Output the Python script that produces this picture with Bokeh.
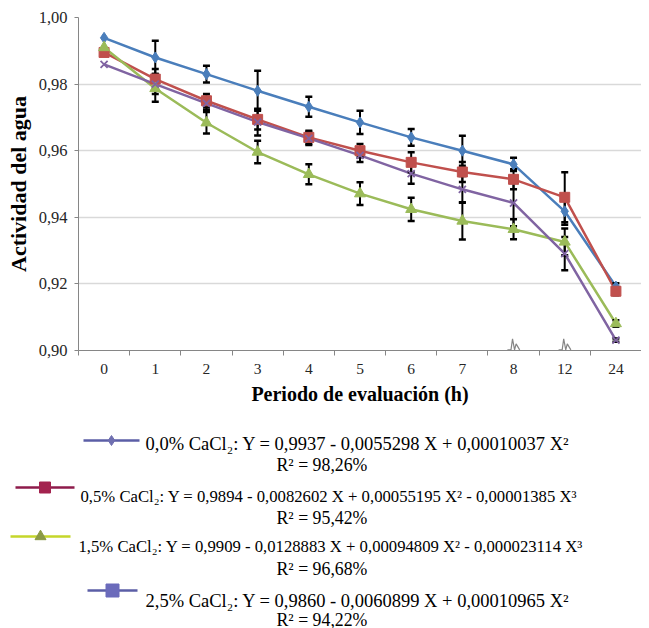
from bokeh.plotting import figure
from bokeh.models import Range1d, FixedTicker, CustomJSTickFormatter
from bokeh.layouts import column
from bokeh.embed import file_html
from bokeh.resources import INLINE
from bokeh.core.properties import value

# ---------------- data ----------------
categories = ["0", "1", "2", "3", "4", "5", "6", "7", "8", "12", "24"]
y_ticks = [0.90, 0.92, 0.94, 0.96, 0.98, 1.00]

aw_00 = [0.9939, 0.9880, 0.9830, 0.9780, 0.9732, 0.9685, 0.9640, 0.9600, 0.9559, 0.9418, 0.9192]
aw_05 = [0.9895, 0.9815, 0.9750, 0.9694, 0.9640, 0.9600, 0.9565, 0.9536, 0.9514, 0.9460, 0.9178]
aw_15 = [0.9910, 0.9787, 0.9684, 0.9596, 0.9529, 0.9471, 0.9424, 0.9389, 0.9364, 0.9326, 0.9081]
aw_25 = [0.9859, 0.9800, 0.9742, 0.9686, 0.9637, 0.9586, 0.9531, 0.9484, 0.9443, 0.9291, 0.9031]

err_00 = [0.0000, 0.0050, 0.0025, 0.0060, 0.0030, 0.0035, 0.0025, 0.0045, 0.0020, 0.0040, 0.0010]
err_05 = [0.0000, 0.0030, 0.0020, 0.0030, 0.0020, 0.0020, 0.0030, 0.0030, 0.0030, 0.0075, 0.0012]
err_15 = [0.0000, 0.0040, 0.0032, 0.0034, 0.0030, 0.0034, 0.0035, 0.0056, 0.0030, 0.0040, 0.0010]
err_25 = [0.0000, 0.0030, 0.0020, 0.0040, 0.0020, 0.0020, 0.0030, 0.0040, 0.0070, 0.0050, 0.0005]

series_names = ["0,0% CaCl₂", "0,5% CaCl₂", "1,5% CaCl₂", "2,5% CaCl₂"]
equations = [
    "Y = 0,9937 - 0,0055298 X + 0,00010037 X²",
    "Y = 0,9894 - 0,0082602 X + 0,00055195 X² - 0,00001385 X³",
    "Y = 0,9909 - 0,0128883 X + 0,00094809 X² - 0,000023114 X³",
    "Y = 0,9860 - 0,0060899 X + 0,00010965 X²",
]
r2_labels = ["R² = 98,26%", "R² = 95,42%", "R² = 96,68%", "R² = 94,22%"]
break_categories = ["8", "12"]

# ---------------- styles ----------------
colors = ["#4A7EBB", "#C0504D", "#9BBB59", "#8064A2"]
markers = ["diamond", "square", "triangle", "x"]
marker_sizes = [11, 10, 11, 10]
FONT = "Liberation Serif"

xs = [i + 0.5 for i in range(len(categories))]
values = [aw_00, aw_05, aw_15, aw_25]
errors = [err_00, err_05, err_15, err_25]

p = figure(width=641, height=410, output_backend="svg", toolbar_location=None,
           x_range=Range1d(0, len(categories)), y_range=Range1d(0.90, 1.00),
           min_border_left=78, min_border_right=0, min_border_top=17, min_border_bottom=60)
p.outline_line_color = None
p.background_fill_color = "white"
p.border_fill_color = "white"

p.xgrid.grid_line_color = None
p.ygrid.grid_line_color = "#D9D9D9"
p.ygrid.grid_line_width = 1.5

# y axis
p.yaxis.ticker = FixedTicker(ticks=y_ticks, minor_ticks=[])
p.yaxis.formatter = CustomJSTickFormatter(code="return tick.toFixed(2).replace('.', ',');")
p.yaxis.axis_line_color = "#868686"
p.yaxis.major_tick_line_color = "#868686"
p.yaxis.major_tick_out = 4
p.yaxis.major_tick_in = 0
p.yaxis.major_label_standoff = 7
p.yaxis.major_label_text_font = FONT
p.yaxis.major_label_text_font_size = "16.5px"
p.yaxis.major_label_text_color = "#262626"
p.yaxis.axis_label = "Actividad del agua"
p.yaxis.axis_label_text_font = FONT
p.yaxis.axis_label_text_font_style = "bold"
p.yaxis.axis_label_text_font_size = "22px"
p.yaxis.axis_label_standoff = 5
p.yaxis.axis_label_text_color = "black"

# x axis: labels at category centres, tick marks at category boundaries
p.xaxis.ticker = FixedTicker(ticks=xs, minor_ticks=list(range(len(categories) + 1)))
p.xaxis.formatter = CustomJSTickFormatter(args=dict(cats=categories),
                                          code="return cats[Math.floor(tick)];")
p.xaxis.axis_line_color = "#868686"
p.xaxis.major_tick_out = 0
p.xaxis.major_tick_in = 0
p.xaxis.minor_tick_out = 5
p.xaxis.minor_tick_in = 0
p.xaxis.minor_tick_line_color = "#868686"
p.xaxis.major_label_standoff = 8
p.xaxis.major_label_text_font = FONT
p.xaxis.major_label_text_font_size = "15.5px"
p.xaxis.major_label_text_color = "#262626"
p.xaxis.axis_label = "Periodo de evaluación (h)"
p.xaxis.axis_label_text_font = FONT
p.xaxis.axis_label_text_font_style = "bold"
p.xaxis.axis_label_text_font_size = "20px"
p.xaxis.axis_label_standoff = 6
p.xaxis.axis_label_text_color = "black"

# axis break marks
for bc in break_categories:
    cx = categories.index(bc) + 0.5
    p.line([cx - 0.12, cx + 0.12], [0.90, 0.90], line_color="white", line_width=3)
    p.line([cx - 0.12, cx - 0.05, cx - 0.02, cx + 0.02, cx + 0.05, cx + 0.12],
           [0.9002, 0.9002, 0.9035, 0.9002, 0.9020, 0.9002], line_color="#868686", line_width=1.2)

# lines
for vals, c in zip(values, colors):
    p.line(xs, vals, line_color=c, line_width=2.5)

# error bars
for vals, errs in zip(values, errors):
    lo = [v - e for v, e in zip(vals, errs) if e > 0]
    hi = [v + e for v, e in zip(vals, errs) if e > 0]
    ex = [x for x, e in zip(xs, errs) if e > 0]
    p.segment(x0=ex, y0=lo, x1=ex, y1=hi, line_color="black", line_width=2)
    p.scatter(ex, lo, marker="dash", size=7, line_color="black", line_width=2.5)
    p.scatter(ex, hi, marker="dash", size=7, line_color="black", line_width=2.5)

# markers
for vals, c, m, s in zip(values, colors, markers, marker_sizes):
    if m == "x":
        p.scatter(xs, vals, marker="x", size=s, line_color=c, line_width=1.8)
    else:
        p.scatter(xs, vals, marker=m, size=s, fill_color=c, line_color=c)

# ---------------- legend panel ----------------
leg = figure(width=641, height=218, output_backend="svg", toolbar_location=None,
             x_range=Range1d(0, 641), y_range=Range1d(628, 410),
             x_axis_location=None, y_axis_location=None,
             min_border=0, min_border_left=0, min_border_right=0,
             min_border_top=0, min_border_bottom=0)
leg.grid.visible = False
leg.outline_line_color = None
leg.background_fill_color = "white"
leg.border_fill_color = "white"

# do not align the legend panel's frame with the chart's frame
for fig in (p, leg):
    if "frame_align" in fig.properties():
        fig.frame_align = False

leg_line_colors = ["#5B5EA6", "#8E1B4B", "#C5D62A", "#5B5EA6"]
leg_marker_colors = ["#6F6FB0", "#A3234F", "#8B9A45", "#6B6BBB"]
leg_markers = ["diamond", "square", "triangle", "square"]
leg_marker_sizes = [10, 11, 11, 13]
leg_font_sizes = ["18.5px", "16.7px", "16.7px", "18.5px"]
# legend layout (page pixels)
sym_x0 = [83, 15, 10, 87]
sym_x1 = [139, 74, 70, 137]
sym_y = [440, 487, 536, 590]
txt_x = [145, 80, 78, 145]
txt_y = [443, 496, 546, 600]
r2_x = [276, 276, 276, 276]
r2_y = [464, 517, 568, 619]

for i in range(4):
    leg.line([sym_x0[i], sym_x1[i]], [sym_y[i], sym_y[i]], line_color=leg_line_colors[i], line_width=2.5)
    leg.scatter([(sym_x0[i] + sym_x1[i]) / 2], [sym_y[i]], marker=leg_markers[i],
                size=leg_marker_sizes[i], fill_color=leg_marker_colors[i],
                line_color=leg_marker_colors[i])
    leg.text(x=[txt_x[i]], y=[txt_y[i]], text=[series_names[i] + ": " + equations[i]],
             text_font=value(FONT), text_font_size=leg_font_sizes[i],
             text_baseline="middle", text_align="left", text_color="black")

leg.text(x=r2_x, y=r2_y, text=r2_labels, text_font=value(FONT), text_font_size="17.8px",
         text_baseline="middle", text_align="left", text_color="black")

layout = column(p, leg, spacing=0)
open("out.html", "w").write(file_html(layout, INLINE))
